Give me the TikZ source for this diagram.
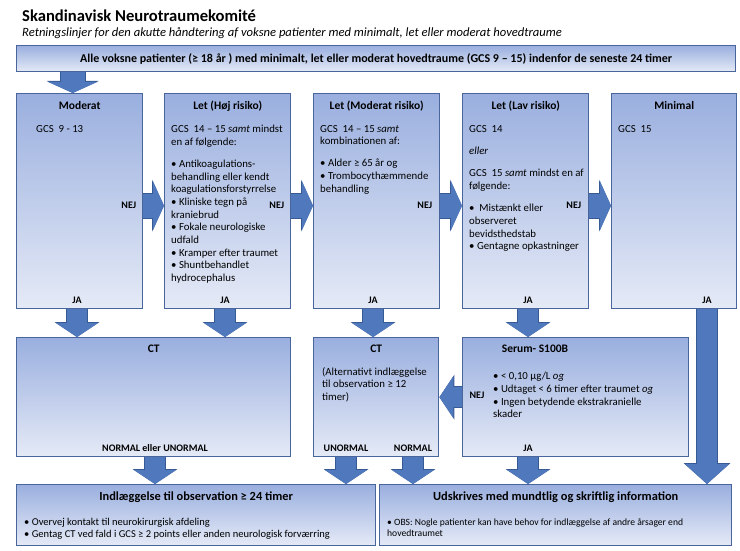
\documentclass[tikz,border=0pt]{standalone}
\usepackage{fontspec}
\setmainfont{Carlito}
\usetikzlibrary{arrows.meta,positioning}

\definecolor{boxtop}{RGB}{154,175,223}
\definecolor{boxbot}{RGB}{229,234,246}
\definecolor{boxedge}{RGB}{72,102,156}
\definecolor{arrowfill}{RGB}{80,121,189}
\definecolor{arrowedge}{RGB}{56,90,148}

\tikzset{
    box/.style={draw=boxedge, line width=1.4pt, top color=boxtop, bottom color=boxbot,
        anchor=north west, inner sep=0pt},
    head/.style={font=\bfseries\fontsize{11.5}{13}\selectfont, inner sep=0pt},
    body/.style={font=\fontsize{10.8}{12.7}\selectfont, align=left, anchor=north west, inner sep=0pt},
    small/.style={font=\fontsize{10.5}{11.8}\selectfont, align=left, anchor=north west, inner sep=0pt},
    tag/.style={font=\bfseries\fontsize{10}{11}\selectfont, inner sep=0pt},
    bigarrow/.style={draw=arrowfill, line width=20pt,
        -{Triangle[width=42pt,length=14pt,line width=0pt]},
        preaction={draw=arrowedge, line width=22pt, -{Triangle[width=45pt,length=15pt,line width=0pt]}}},
    longarrow/.style={draw=arrowfill, line width=20pt,
        -{Triangle[width=44pt,length=20pt,line width=0pt]},
        preaction={draw=arrowedge, line width=22pt, -{Triangle[width=47pt,length=21pt,line width=0pt]}}},
    sidearrow/.style={draw=arrowfill, line width=24pt,
        -{Triangle[width=49pt,length=11pt,line width=0pt]},
        preaction={draw=arrowedge, line width=26pt, -{Triangle[width=52pt,length=12pt,line width=0pt]}}},
}

\begin{document}
\begin{tikzpicture}[x=1pt, y=-1pt]
    \useasboundingbox[fill=white] (0,0) rectangle (740,551);

    % heading
    \node[anchor=west, inner sep=0pt, font=\bfseries\fontsize{16.6}{19}\selectfont] (title) at (22,16)
        {Skandinavisk Neurotraumekomité};
    \node[anchor=west, inner sep=0pt, font=\itshape\fontsize{12.6}{14}\selectfont] (subtitle) at (22,33)
        {Retningslinjer for den akutte håndtering af voksne patienter med minimalt, let eller moderat hovedtraume};

    \node[box, minimum width=719pt, minimum height=26pt] (banner) at (16,45) {};
    \node[font=\bfseries\fontsize{12}{13}\selectfont, inner sep=0pt] at (banner.center)
        {Alle voksne patienter (≥ 18 år ) med minimalt, let eller moderat hovedtraume (GCS 9 – 15) indenfor de seneste 24 timer};

    % first row
    \node[box, minimum width=126pt, minimum height=215pt] (moderat) at (16,93) {};
    \node[box, minimum width=126pt, minimum height=215pt] (hoej) at (164,93) {};
    \node[box, minimum width=126pt, minimum height=215pt] (midrisk) at (313,93) {};
    \node[box, minimum width=126pt, minimum height=215pt] (lav) at (462,93) {};
    \node[box, minimum width=125pt, minimum height=215pt] (minimal) at (611,93) {};

    \node[head] at ([yshift=-13pt]moderat.north) {Moderat};
    \node[head] at ([yshift=-13pt]hoej.north) {Let (Høj risiko)};
    \node[head] at ([yshift=-13pt]midrisk.north) {Let (Moderat risiko)};
    \node[head] at ([yshift=-13pt]lav.north) {Let (Lav risiko)};
    \node[head] at ([yshift=-13pt]minimal.north) {Minimal};

    \node[body] at ([xshift=20pt,yshift=-32pt]moderat.north west) {GCS\ \ 9 - 13};
    \node[body] at ([xshift=7pt,yshift=-32pt]hoej.north west)
        {GCS\ \ 14 – 15 \emph{samt} mindst\\
         en af følgende:\\[9.3pt]
         • Antikoagulations-\\
         behandling eller kendt\\
         koagulationsforstyrrelse\\
         • Kliniske tegn på\\
         kraniebrud\\
         • Fokale neurologiske\\
         udfald\\
         • Kramper efter traumet\\
         • Shuntbehandlet\\
         hydrocephalus};
    \node[body] at ([xshift=7pt,yshift=-32pt]midrisk.north west)
        {GCS\ \ 14 – 15 \emph{samt}\\
         kombinationen af:\\[9.3pt]
         • Alder ≥ 65 år og\\
         • Trombocythæmmende\\
         behandling};
    \node[body] at ([xshift=7pt,yshift=-32pt]lav.north west)
        {GCS\ \ 14\\[10pt]
         \emph{eller}\\[9.3pt]
         GCS\ \ 15 \emph{samt} mindst en af\\
         følgende:\\[9.3pt]
         •\ \ Mistænkt eller\\
         observeret\\
         bevidsthedstab\\
         • Gentagne opkastninger};
    \node[body] at ([xshift=7pt,yshift=-32pt]minimal.north west) {GCS\ \ 15};

    \node[tag, anchor=east] at ([xshift=-7pt,yshift=-4.5pt]moderat.east) {NEJ};
    \node[tag, anchor=east] at ([xshift=-7pt,yshift=-4.5pt]hoej.east) {NEJ};
    \node[tag, anchor=east] at ([xshift=-8pt,yshift=-4.5pt]midrisk.east) {NEJ};
    \node[tag, anchor=east] at ([xshift=-8pt,yshift=-4.5pt]lav.east) {NEJ};

    \node[tag] (jaModerat) at (77,300) {JA};
    \node[tag] (jaHoej) at (225,300) {JA};
    \node[tag] (jaMidrisk) at (373,300) {JA};
    \node[tag] (jaLav) at (528,300) {JA};
    \node[tag] (jaMinimal) at (707,300) {JA};

    % second row
    \node[box, minimum width=274pt, minimum height=119pt] (ctA) at (16,337) {};
    \node[box, minimum width=125pt, minimum height=119pt] (ctB) at (313,337) {};
    \node[box, minimum width=226pt, minimum height=119pt] (serum) at (462,337) {};

    \node[head] at ([yshift=-12pt]ctA.north) {CT};
    \node[head] at ([yshift=-12pt]ctB.north) {CT};
    \node[head] at (535,349) {Serum- S100B};

    \node[body] at ([xshift=9pt,yshift=-30pt]ctB.north west)
        {(Alternativt indlæggelse\\
         til observation ≥ 12\\
         timer)};
    \node[body] at ([xshift=31pt,yshift=-35pt]serum.north west)
        {• < 0,10 µg/L \emph{og}\\
         • Udtaget < 6 timer efter traumet \emph{og}\\
         • Ingen betydende ekstrakranielle\\
         skader};

    \node[tag] (ctAny) at (155,448) {NORMAL eller UNORMAL};
    \node[tag] (ctUnormal) at (346,448) {UNORMAL};
    \node[tag] (ctNormal) at (413,448) {NORMAL};
    \node[tag] (jaSerum) at (528,448) {JA};
    \node[tag] at (477,395) {NEJ};

    % third row
    \node[box, minimum width=359pt, minimum height=61pt] (admit) at (16,484) {};
    \node[box, minimum width=352pt, minimum height=61pt] (discharge) at (379,484) {};

    \node[font=\bfseries\fontsize{12.4}{14}\selectfont, inner sep=0pt] at ([yshift=-13pt]admit.north)
        {Indlæggelse til observation ≥ 24 timer};
    \node[font=\bfseries\fontsize{12.4}{14}\selectfont, inner sep=0pt] at ([yshift=-13pt]discharge.north)
        {Udskrives med mundtlig og skriftlig information};
    \node[small] at ([xshift=8pt,yshift=-34pt]admit.north west)
        {• Overvej kontakt til neurokirurgisk afdeling\\
         • Gentag CT ved fald i GCS ≥ 2 points eller anden neurologisk forværring};
    \node[small, font=\fontsize{9.6}{11.8}\selectfont] at ([xshift=8pt,yshift=-34pt]discharge.north west)
        {• OBS: Nogle patienter kan have behov for indlæggelse af andre årsager end\\
         hovedtraumet};

    % arrows
    \draw[sidearrow] ([xshift=-7pt]banner.south -| moderat.north) -- ([xshift=-7pt]moderat.north);
    \draw[sidearrow] ([yshift=-4.5pt]moderat.east) -- ([yshift=-4.5pt]hoej.west);
    \draw[sidearrow] ([yshift=-4.5pt]hoej.east) -- ([yshift=-4.5pt]midrisk.west);
    \draw[sidearrow] ([yshift=-4.5pt]midrisk.east) -- ([yshift=-4.5pt]lav.west);
    \draw[sidearrow] ([yshift=-4.5pt]lav.east) -- ([yshift=-4.5pt]minimal.west);

    \draw[bigarrow] (jaModerat |- moderat.south) -- (jaModerat |- ctA.north);
    \draw[bigarrow] (jaHoej |- hoej.south) -- (jaHoej |- ctA.north);
    \draw[bigarrow] (jaMidrisk |- midrisk.south) -- (jaMidrisk |- ctB.north);
    \draw[bigarrow] (jaLav |- lav.south) -- (jaLav |- serum.north);
    \draw[longarrow] (jaMinimal |- minimal.south) -- (jaMinimal |- discharge.north);
    \draw[bigarrow] (serum.west) -- (ctB.east);

    \draw[bigarrow] (ctAny |- ctA.south) -- (ctAny |- admit.north);
    \draw[bigarrow] (ctUnormal |- ctB.south) -- (ctUnormal |- admit.north);
    \draw[bigarrow] (ctNormal |- ctB.south) -- (ctNormal |- discharge.north);
    \draw[bigarrow] (jaSerum |- serum.south) -- (jaSerum |- discharge.north);
\end{tikzpicture}
\end{document}
